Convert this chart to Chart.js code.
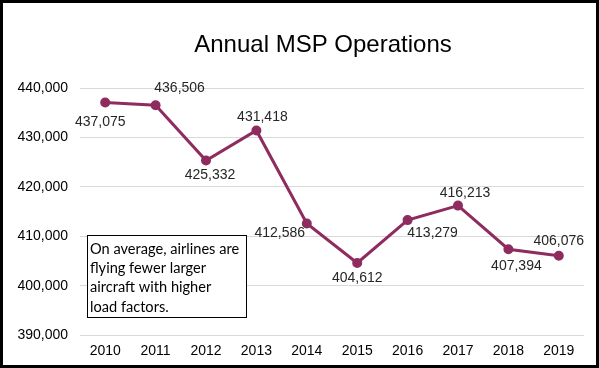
<!DOCTYPE html>
<html>
<head>
<meta charset="utf-8">
<title>Annual MSP Operations</title>
<script src="https://cdn.jsdelivr.net/npm/chart.js@4.4.1/dist/chart.umd.min.js"></script>
<style>
  html, body { margin: 0; padding: 0; background: #ffffff; }
  #wrap { position: relative; width: 599px; height: 368px; }
  canvas { display: block; }
</style>
</head>
<body>
<div id="wrap"><canvas id="chart" width="599" height="368"></canvas></div>
<script>
// Annual aircraft operations at MSP
const years = ['2010', '2011', '2012', '2013', '2014', '2015', '2016', '2017', '2018', '2019'];
const operations = [437075, 436506, 425332, 431418, 412586, 404612, 413279, 416213, 407394, 406076];
const yTicks = [390000, 400000, 410000, 420000, 430000, 440000];

const chartTitle = 'Annual MSP Operations';
const noteLines = ['On average, airlines are', 'flying fewer larger', 'aircraft with higher', 'load factors.'];

// Where each value label sits relative to its point (dx, dy in px)
const labelOffsets = [
  [-5, 20], [24, -17], [4, 15], [6, -13], [-27, 10],
  [0, 15], [25, 13], [7, -12], [8, 17], [0, -15]
];

const fmt = v => v.toLocaleString('en-US');
const LINE_COLOR = '#8E2B5F';
const SANS = '"Liberation Sans", Arial, sans-serif';

const valueLabels = {
  id: 'valueLabels',
  afterDatasetsDraw(chart) {
    const ctx = chart.ctx;
    const meta = chart.getDatasetMeta(0);
    ctx.save();
    ctx.font = '14px ' + SANS;
    ctx.fillStyle = '#262626';
    ctx.textAlign = 'center';
    ctx.textBaseline = 'middle';
    meta.data.forEach((pt, i) => {
      const [dx, dy] = labelOffsets[i];
      ctx.fillText(fmt(operations[i]), pt.x + dx, pt.y + dy);
    });
    ctx.restore();
  }
};

const titleText = {
  id: 'titleText',
  afterDraw(chart) {
    const ctx = chart.ctx;
    ctx.save();
    ctx.font = '24px ' + SANS;
    ctx.fillStyle = '#000000';
    ctx.textAlign = 'center';
    ctx.textBaseline = 'middle';
    ctx.fillText(chartTitle, 323, 45);
    ctx.restore();
  }
};

const noteBox = {
  id: 'noteBox',
  afterDraw(chart) {
    const ctx = chart.ctx;
    const a = chart.chartArea;
    const x = a.left + 7, y = 235, w = 159, h = 82;
    ctx.save();
    ctx.fillStyle = '#ffffff';
    ctx.fillRect(x, y, w, h);
    ctx.strokeStyle = '#000000';
    ctx.lineWidth = 1;
    ctx.strokeRect(x + 0.5, y + 0.5, w, h);
    ctx.font = '14.6px Lato, "Open Sans", sans-serif';
    ctx.fillStyle = '#000000';
    ctx.textAlign = 'left';
    ctx.textBaseline = 'middle';
    noteLines.forEach((line, i) => ctx.fillText(line, x + 3, y + 14 + i * 19.3));
    ctx.restore();
  }
};

const frame = {
  id: 'frame',
  afterDraw(chart) {
    const ctx = chart.ctx;
    ctx.save();
    ctx.strokeStyle = '#000000';
    ctx.lineWidth = 3;
    ctx.strokeRect(1.5, 1.5, chart.width - 3, chart.height - 3);
    ctx.restore();
  }
};

new Chart(document.getElementById('chart'), {
  type: 'line',
  data: {
    labels: years,
    datasets: [{
      data: operations,
      borderColor: LINE_COLOR,
      backgroundColor: LINE_COLOR,
      borderWidth: 3,
      pointRadius: 3.5,
      pointHoverRadius: 3.5,
      pointBackgroundColor: LINE_COLOR,
      pointBorderColor: LINE_COLOR,
      tension: 0,
      fill: false
    }]
  },
  options: {
    responsive: false,
    animation: false,
    layout: { padding: { left: 6, right: 15, top: 88, bottom: 0 } },
    plugins: {
      legend: { display: false },
      tooltip: { enabled: false },
      title: { display: false }
    },
    scales: {
      x: {
        offset: true,
        grid: { display: false, drawTicks: false },
        border: { display: false },
        ticks: {
          color: '#000000',
          padding: 8,
          font: { family: SANS, size: 14 }
        }
      },
      y: {
        min: yTicks[0],
        max: yTicks[yTicks.length - 1],
        afterBuildTicks(scale) { scale.ticks = yTicks.map(v => ({ value: v })); },
        afterFit(scale) { scale.width = 74; },
        grid: { color: '#d9d9d9', lineWidth: 1, drawTicks: false },
        border: { display: false },
        ticks: {
          color: '#000000',
          padding: 12,
          font: { family: SANS, size: 14 },
          callback: v => fmt(v)
        }
      }
    }
  },
  plugins: [valueLabels, titleText, noteBox, frame]
});
</script>
</body>
</html>
